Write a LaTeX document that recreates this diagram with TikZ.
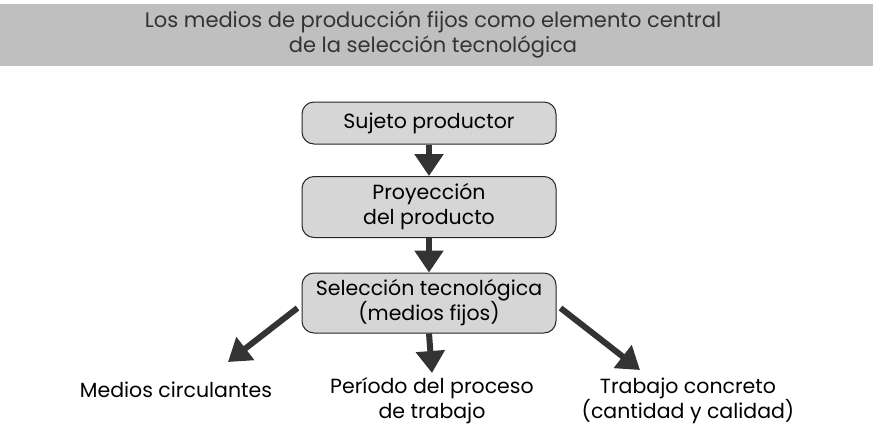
\documentclass[tikz,border=0pt]{standalone}
\usepackage{fontspec}
\setmainfont{Poppins}
\usetikzlibrary{arrows.meta}
\begin{document}
\begin{tikzpicture}[x=1pt,y=-1pt,
  box/.style={draw=black!85,line width=1pt,fill=black!16,rounded corners=12pt,minimum width=254pt,align=center,font=\fontsize{20.5}{25}\selectfont,inner sep=2pt},
  lbl/.style={align=center,font=\fontsize{20.5}{25}\selectfont},
  arr/.style={line width=6pt,draw=black!80,-{Triangle[width=28pt,length=22pt]}}]
\useasboundingbox (0,0) rectangle (873,432);
\fill[black!25] (0,4) rectangle (873,66);
\node[lbl,font=\fontsize{21}{25}\selectfont,text=black!80] (title) at (433,35) {Los medios de producción fijos como elemento central\\de la selección tecnológica};
\node[box,minimum height=42pt] (b1) at (429,123) {Sujeto productor};
\node[box,minimum height=61pt] (b2) at (429,207) {Proyección\\del producto};
\node[box,minimum height=60pt] (b3) at (429,303) {Selección tecnológica\\(medios fijos)};
\node[lbl] (l1) at (176,390) {Medios circulantes};
\node[lbl] (l2) at (432,401) {Período del proceso\\de trabajo};
\node[lbl] (l3) at (688,401) {Trabajo concreto\\(cantidad y calidad)};
\coordinate (t1) at (228,362);
\coordinate (t3) at (640,370);
\draw[arr] (b1.south) -- (b2.north);
\draw[arr] (b2.south) -- (b3.north);
\draw[arr] (b3.south) -- (432,373);
\draw[arr] (b3.west) ++(-4,5) -- (t1);
\draw[arr] (b3.east) ++(4,5) -- (t3);
\end{tikzpicture}
\end{document}
